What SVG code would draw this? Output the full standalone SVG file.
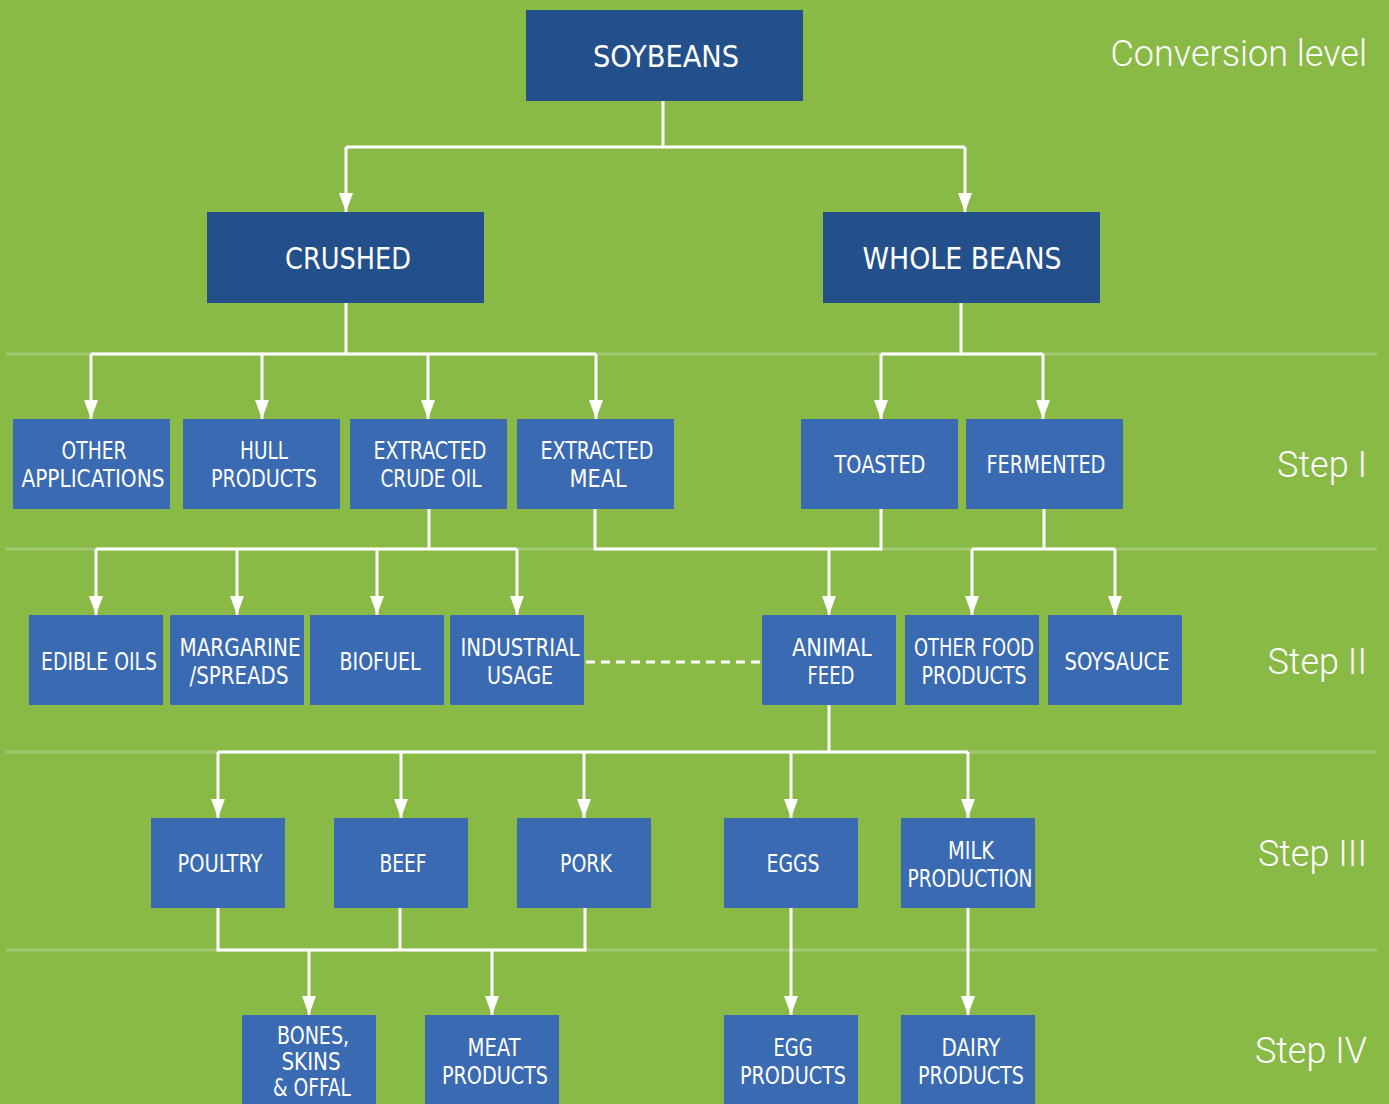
<svg xmlns="http://www.w3.org/2000/svg" width="1389" height="1104" viewBox="0 0 1389 1104">
<style>
.bg{fill:#8aba46}
.sep{stroke:#a3c874;stroke-width:3;fill:none}
.dk{fill:#234f8a}
.lt{fill:#3a6ab2}
.t{font-family:"Liberation Sans Narrow","DejaVu Sans Condensed","Liberation Sans",sans-serif;fill:#fff;text-anchor:middle;font-size:24px}
.tb{font-size:31px}
.lvl{font-family:Roboto,"Liberation Sans",sans-serif;font-weight:300;fill:#fff;font-size:36px;text-anchor:end}
.c{stroke:#fff;stroke-width:3;fill:none}
.d{stroke:#fff;stroke-width:3;fill:none;stroke-dasharray:9 6}
</style>
<defs>
<marker id="ah" markerUnits="userSpaceOnUse" markerWidth="19" markerHeight="14" refX="19" refY="7" orient="auto" viewBox="0 0 19 14">
<path d="M0,0 L19,7 L0,14 Z" fill="#fff"/>
</marker>
</defs>
<rect class="bg" x="0" y="0" width="1389" height="1104"/>
<g id="separators">
<line class="sep" x1="6" y1="354" x2="1377" y2="354"/>
<line class="sep" x1="6" y1="549" x2="1377" y2="549"/>
<line class="sep" x1="6" y1="752" x2="1377" y2="752"/>
<line class="sep" x1="6" y1="950" x2="1377" y2="950"/>
</g>
<g id="levels">
<text class="lvl" x="1367" y="66">Conversion level</text>
<text class="lvl" x="1367" y="477">Step I</text>
<text class="lvl" x="1367" y="674">Step II</text>
<text class="lvl" x="1367" y="866">Step III</text>
<text class="lvl" x="1367" y="1063">Step IV</text>
</g>
<g id="connectors">
<polyline class="c" points="663,101 663,147"/>
<polyline class="c" points="346,147 965,147"/>
<line class="c" x1="346" y1="147" x2="346" y2="212" marker-end="url(#ah)"/>
<line class="c" x1="965" y1="147" x2="965" y2="212" marker-end="url(#ah)"/>
<polyline class="c" points="346,303 346,354"/>
<polyline class="c" points="91,354 596,354"/>
<line class="c" x1="91" y1="354" x2="91" y2="419" marker-end="url(#ah)"/>
<line class="c" x1="262" y1="354" x2="262" y2="419" marker-end="url(#ah)"/>
<line class="c" x1="428" y1="354" x2="428" y2="419" marker-end="url(#ah)"/>
<line class="c" x1="596" y1="354" x2="596" y2="419" marker-end="url(#ah)"/>
<polyline class="c" points="961,303 961,354"/>
<polyline class="c" points="881,354 1043,354"/>
<line class="c" x1="881" y1="354" x2="881" y2="419" marker-end="url(#ah)"/>
<line class="c" x1="1043" y1="354" x2="1043" y2="419" marker-end="url(#ah)"/>
<polyline class="c" points="429,509 429,549"/>
<polyline class="c" points="96,549 517,549"/>
<line class="c" x1="96" y1="549" x2="96" y2="615" marker-end="url(#ah)"/>
<line class="c" x1="237" y1="549" x2="237" y2="615" marker-end="url(#ah)"/>
<line class="c" x1="377" y1="549" x2="377" y2="615" marker-end="url(#ah)"/>
<line class="c" x1="517" y1="549" x2="517" y2="615" marker-end="url(#ah)"/>
<polyline class="c" points="595,509 595,549 881,549 881,509"/>
<line class="c" x1="829" y1="549" x2="829" y2="615" marker-end="url(#ah)"/>
<polyline class="c" points="1044,509 1044,549"/>
<polyline class="c" points="972,549 1115,549"/>
<line class="c" x1="972" y1="549" x2="972" y2="615" marker-end="url(#ah)"/>
<line class="c" x1="1115" y1="549" x2="1115" y2="615" marker-end="url(#ah)"/>
<line class="d" x1="586" y1="662" x2="761" y2="662"/>
<polyline class="c" points="829,705 829,752"/>
<polyline class="c" points="218,752 968,752"/>
<line class="c" x1="218" y1="752" x2="218" y2="818" marker-end="url(#ah)"/>
<line class="c" x1="401" y1="752" x2="401" y2="818" marker-end="url(#ah)"/>
<line class="c" x1="584" y1="752" x2="584" y2="818" marker-end="url(#ah)"/>
<line class="c" x1="791" y1="752" x2="791" y2="818" marker-end="url(#ah)"/>
<line class="c" x1="968" y1="752" x2="968" y2="818" marker-end="url(#ah)"/>
<polyline class="c" points="218,908 218,950 585,950 585,908"/>
<polyline class="c" points="400,908 400,950"/>
<line class="c" x1="309" y1="950" x2="309" y2="1015" marker-end="url(#ah)"/>
<line class="c" x1="492" y1="950" x2="492" y2="1015" marker-end="url(#ah)"/>
<line class="c" x1="791" y1="908" x2="791" y2="1015" marker-end="url(#ah)"/>
<line class="c" x1="968" y1="908" x2="968" y2="1015" marker-end="url(#ah)"/>
</g>
<g id="soybeans"><rect class="dk" x="526" y="10" width="277" height="91"/><text class="t tb" x="666" y="67" textLength="146" lengthAdjust="spacingAndGlyphs">SOYBEANS</text></g>
<g id="crushed"><rect class="dk" x="207" y="212" width="277" height="91"/><text class="t tb" x="348" y="269" textLength="126" lengthAdjust="spacingAndGlyphs">CRUSHED</text></g>
<g id="wholebeans"><rect class="dk" x="823" y="212" width="277" height="91"/><text class="t tb" x="962" y="269" textLength="199" lengthAdjust="spacingAndGlyphs">WHOLE BEANS</text></g>

<g id="otherapps"><rect class="lt" x="13" y="419" width="157" height="90"/><text class="t" x="94" y="459" textLength="65" lengthAdjust="spacingAndGlyphs">OTHER</text><text class="t" x="93" y="487" textLength="143" lengthAdjust="spacingAndGlyphs">APPLICATIONS</text></g>
<g id="hull"><rect class="lt" x="183" y="419" width="157" height="90"/><text class="t" x="264" y="459" textLength="48" lengthAdjust="spacingAndGlyphs">HULL</text><text class="t" x="264" y="487" textLength="106" lengthAdjust="spacingAndGlyphs">PRODUCTS</text></g>
<g id="crudeoil"><rect class="lt" x="350" y="419" width="157" height="90"/><text class="t" x="430" y="459" textLength="113" lengthAdjust="spacingAndGlyphs">EXTRACTED</text><text class="t" x="431" y="487" textLength="101" lengthAdjust="spacingAndGlyphs">CRUDE OIL</text></g>
<g id="meal"><rect class="lt" x="517" y="419" width="157" height="90"/><text class="t" x="597" y="459" textLength="113" lengthAdjust="spacingAndGlyphs">EXTRACTED</text><text class="t" x="598" y="487" textLength="57" lengthAdjust="spacingAndGlyphs">MEAL</text></g>
<g id="toasted"><rect class="lt" x="801" y="419" width="157" height="90"/><text class="t" x="880" y="473" textLength="91" lengthAdjust="spacingAndGlyphs">TOASTED</text></g>
<g id="fermented"><rect class="lt" x="966" y="419" width="157" height="90"/><text class="t" x="1046" y="473" textLength="119" lengthAdjust="spacingAndGlyphs">FERMENTED</text></g>

<g id="edibleoils"><rect class="lt" x="29" y="615" width="134" height="90"/><text class="t" x="99" y="670" textLength="116" lengthAdjust="spacingAndGlyphs">EDIBLE OILS</text></g>
<g id="margarine"><rect class="lt" x="170" y="615" width="134" height="90"/><text class="t" x="240" y="656" textLength="121" lengthAdjust="spacingAndGlyphs">MARGARINE</text><text class="t" x="239" y="684" textLength="99" lengthAdjust="spacingAndGlyphs">/SPREADS</text></g>
<g id="biofuel"><rect class="lt" x="310" y="615" width="134" height="90"/><text class="t" x="380" y="670" textLength="81" lengthAdjust="spacingAndGlyphs">BIOFUEL</text></g>
<g id="industrial"><rect class="lt" x="450" y="615" width="134" height="90"/><text class="t" x="520" y="656" textLength="119" lengthAdjust="spacingAndGlyphs">INDUSTRIAL</text><text class="t" x="520" y="684" textLength="66" lengthAdjust="spacingAndGlyphs">USAGE</text></g>
<g id="animalfeed"><rect class="lt" x="762" y="615" width="134" height="90"/><text class="t" x="832" y="656" textLength="80" lengthAdjust="spacingAndGlyphs">ANIMAL</text><text class="t" x="831" y="684" textLength="47" lengthAdjust="spacingAndGlyphs">FEED</text></g>
<g id="otherfood"><rect class="lt" x="905" y="615" width="134" height="90"/><text class="t" x="974" y="656" textLength="120" lengthAdjust="spacingAndGlyphs">OTHER FOOD</text><text class="t" x="974" y="684" textLength="105" lengthAdjust="spacingAndGlyphs">PRODUCTS</text></g>
<g id="soysauce"><rect class="lt" x="1048" y="615" width="134" height="90"/><text class="t" x="1117" y="670" textLength="105" lengthAdjust="spacingAndGlyphs">SOYSAUCE</text></g>

<g id="poultry"><rect class="lt" x="151" y="818" width="134" height="90"/><text class="t" x="220" y="872" textLength="85" lengthAdjust="spacingAndGlyphs">POULTRY</text></g>
<g id="beef"><rect class="lt" x="334" y="818" width="134" height="90"/><text class="t" x="403" y="872" textLength="47" lengthAdjust="spacingAndGlyphs">BEEF</text></g>
<g id="pork"><rect class="lt" x="517" y="818" width="134" height="90"/><text class="t" x="586" y="872" textLength="52" lengthAdjust="spacingAndGlyphs">PORK</text></g>
<g id="eggs"><rect class="lt" x="724" y="818" width="134" height="90"/><text class="t" x="793" y="872" textLength="53" lengthAdjust="spacingAndGlyphs">EGGS</text></g>
<g id="milk"><rect class="lt" x="901" y="818" width="134" height="90"/><text class="t" x="971" y="859" textLength="46" lengthAdjust="spacingAndGlyphs">MILK</text><text class="t" x="970" y="887" textLength="125" lengthAdjust="spacingAndGlyphs">PRODUCTION</text></g>

<g id="bones"><rect class="lt" x="242" y="1015" width="134" height="95"/><text class="t" x="313" y="1044" textLength="72" lengthAdjust="spacingAndGlyphs">BONES,</text><text class="t" x="311" y="1070" textLength="59" lengthAdjust="spacingAndGlyphs">SKINS</text><text class="t" x="312" y="1096" textLength="78" lengthAdjust="spacingAndGlyphs">&amp; OFFAL</text></g>
<g id="meatproducts"><rect class="lt" x="425" y="1015" width="134" height="95"/><text class="t" x="494" y="1056" textLength="53" lengthAdjust="spacingAndGlyphs">MEAT</text><text class="t" x="495" y="1084" textLength="106" lengthAdjust="spacingAndGlyphs">PRODUCTS</text></g>
<g id="eggproducts"><rect class="lt" x="724" y="1015" width="134" height="95"/><text class="t" x="793" y="1056" textLength="39" lengthAdjust="spacingAndGlyphs">EGG</text><text class="t" x="793" y="1084" textLength="106" lengthAdjust="spacingAndGlyphs">PRODUCTS</text></g>
<g id="dairy"><rect class="lt" x="901" y="1015" width="134" height="95"/><text class="t" x="971" y="1056" textLength="59" lengthAdjust="spacingAndGlyphs">DAIRY</text><text class="t" x="971" y="1084" textLength="106" lengthAdjust="spacingAndGlyphs">PRODUCTS</text></g>
</svg>
